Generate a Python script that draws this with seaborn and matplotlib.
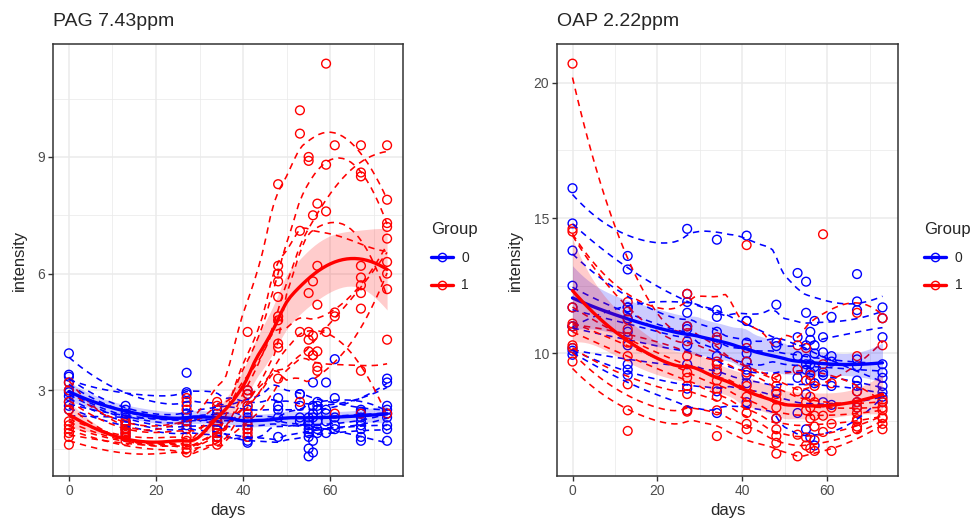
import numpy as np
import pandas as pd
import matplotlib
matplotlib.use("Agg")
import matplotlib.pyplot as plt
import seaborn as sns
from matplotlib.lines import Line2D

# ---------------- data ----------------
GROUPS = ["0", "1"]
COLORS = {"0": "#0000FF", "1": "#FF0000"}
TITLES = ["PAG 7.43ppm", "OAP 2.22ppm"]
X_TICKS = [0, 20, 40, 60]
X_MINOR = [10, 30, 50, 70]
PAG_TICKS = [3, 6, 9]
PAG_MINOR = [1.5, 4.5, 7.5, 10.5]
OAP_TICKS = [10, 15, 20]
OAP_MINOR = [7.5, 12.5, 17.5]

BLUE_DAYS = [
    [0, 13, 27, 34, 41, 53, 55, 57, 61, 67, 73],
    [0, 13, 27, 34, 41, 48, 55, 56, 59, 67, 73],
    [0, 13, 27, 34, 41, 53, 56, 57, 59, 67, 73],
    [0, 13, 27, 34, 41, 48, 53, 55, 61, 67, 73],
    [0, 13, 27, 34, 41, 55, 56, 57, 59, 67, 73],
    [0, 13, 27, 34, 41, 48, 55, 57, 61, 67, 73],
    [0, 13, 27, 34, 41, 53, 55, 56, 59, 67, 73],
    [0, 13, 27, 34, 41, 48, 56, 57, 61, 67, 73],
    [0, 13, 27, 34, 41, 53, 55, 59, 61, 67, 73],
    [0, 13, 27, 34, 41, 48, 55, 56, 57, 67, 73],
]
RED_DAYS = [
    [0, 13, 27, 34, 41, 48, 53, 56, 59, 67, 73],
    [0, 13, 27, 34, 41, 48, 53, 55, 59, 67, 73],
    [0, 13, 27, 34, 41, 48, 55, 57, 61, 67, 73],
    [0, 13, 27, 34, 41, 48, 53, 56, 57, 67, 73],
    [0, 13, 27, 34, 41, 48, 55, 56, 61, 67, 73],
    [0, 13, 27, 34, 41, 48, 55, 57, 59, 67, 73],
    [0, 13, 27, 34, 41, 48, 56, 57, 61, 67, 73],
    [0, 13, 27, 34, 41, 48, 53, 55, 59, 67, 73],
    [0, 13, 27, 34, 41, 48, 55, 56, 57, 67, 73],
    [0, 13, 27, 34, 41, 48, 53, 57, 61, 67, 73],
]

PAG_BLUE = [
    [3.95, 2.6, 2.9, 2.5, 2.6, 2.6, 2.3, 2.5, 2.8, 2.5, 3.3],
    [3.4, 2.5, 3.45, 2.4, 3.0, 2.8, 2.2, 2.6, 3.2, 2.45, 3.2],
    [3.35, 2.4, 2.6, 2.3, 2.9, 2.9, 3.2, 2.7, 2.4, 2.4, 2.6],
    [3.2, 2.3, 2.4, 2.2, 2.5, 2.6, 2.3, 2.1, 3.8, 2.3, 2.5],
    [3.0, 2.2, 2.3, 2.1, 2.3, 2.0, 2.4, 1.9, 2.2, 2.2, 2.4],
    [2.95, 2.1, 2.2, 2.0, 2.0, 2.3, 1.8, 2.2, 2.0, 2.1, 2.3],
    [2.85, 2.0, 2.1, 1.9, 1.8, 2.2, 1.5, 1.7, 2.5, 2.0, 2.1],
    [2.6, 1.9, 2.0, 1.8, 1.7, 1.8, 1.4, 2.0, 2.3, 1.8, 2.0],
    [2.5, 1.8, 2.95, 1.8, 1.65, 2.9, 1.3, 1.9, 2.1, 1.7, 1.7],
    [2.7, 2.2, 2.4, 2.2, 2.1, 2.5, 1.9, 2.3, 2.6, 2.4, 2.4],
]
PAG_RED = [
    [2.5, 2.0, 1.6, 2.2, 2.6, 4.9, 7.1, 7.5, 7.6, 8.6, 9.3],
    [3.2, 2.2, 2.8, 2.7, 4.5, 8.3, 10.2, 8.9, 8.8, 9.3, 7.9],
    [3.0, 2.15, 2.7, 2.6, 3.0, 6.2, 9.0, 7.8, 9.3, 8.5, 7.3],
    [2.7, 2.1, 2.5, 2.3, 2.9, 6.0, 9.6, 5.8, 6.2, 5.7, 7.2],
    [2.2, 2.0, 2.2, 2.1, 2.4, 5.8, 4.5, 4.4, 5.0, 5.5, 6.9],
    [2.1, 1.95, 2.0, 1.9, 2.2, 5.4, 5.5, 5.2, 11.4, 5.1, 6.0],
    [2.0, 1.9, 1.8, 1.8, 2.1, 4.2, 3.9, 4.0, 4.9, 6.2, 6.3],
    [1.9, 1.85, 1.5, 1.7, 2.0, 4.1, 4.5, 4.3, 4.5, 3.5, 2.4],
    [1.8, 1.8, 1.7, 1.6, 1.9, 3.3, 4.0, 3.9, 3.6, 2.4, 4.3],
    [1.6, 1.7, 1.4, 2.0, 1.8, 4.8, 2.7, 3.5, 2.4, 5.9, 5.6],
]

OAP_BLUE = [
    [16.1, 13.6, 14.6, 14.2, 14.35, 12.97, 12.65, 11.2, 11.35, 12.93, 11.7],
    [14.8, 13.1, 12.2, 11.35, 11.2, 11.8, 11.5, 10.8, 10.6, 11.92, 11.3],
    [13.8, 11.7, 11.5, 10.8, 10.4, 10.6, 10.5, 10.3, 10.04, 11.6, 10.6],
    [12.5, 11.3, 11.0, 10.3, 10.0, 10.27, 9.9, 9.8, 9.7, 9.78, 9.6],
    [11.7, 10.8, 10.9, 9.9, 9.7, 9.6, 9.6, 9.5, 9.3, 9.53, 9.3],
    [11.0, 11.7, 11.9, 11.6, 11.2, 10.4, 10.3, 10.0, 9.9, 9.0, 9.1],
    [11.0, 10.3, 10.3, 9.6, 9.4, 9.1, 9.4, 9.3, 9.2, 8.8, 8.8],
    [10.2, 9.6, 9.6, 9.3, 9.2, 8.6, 9.0, 8.9, 8.8, 8.6, 8.56],
    [10.1, 9.4, 8.7, 8.6, 8.9, 7.8, 8.5, 8.2, 8.1, 8.2, 8.4],
    [9.95, 9.2, 7.9, 7.8, 8.2, 7.6, 7.2, 6.9, 6.6, 8.0, 8.2],
]
OAP_RED = [
    [20.7, 11.9, 11.0, 10.5, 9.3, 9.1, 9.4, 9.2, 9.6, 8.6, 8.3],
    [14.6, 11.55, 12.2, 10.6, 14.0, 8.8, 10.3, 10.2, 14.4, 11.5, 11.3],
    [14.5, 11.25, 10.45, 9.7, 10.2, 8.5, 9.0, 8.8, 8.9, 9.9, 10.3],
    [11.0, 10.9, 9.9, 9.6, 9.7, 8.3, 8.6, 8.4, 8.2, 8.2, 8.2],
    [11.7, 10.6, 9.3, 9.4, 8.8, 8.0, 8.2, 8.0, 8.0, 8.0, 8.0],
    [11.1, 10.4, 9.1, 9.0, 8.4, 7.6, 7.9, 7.7, 7.7, 7.8, 7.9],
    [10.8, 9.9, 8.8, 8.7, 8.1, 7.2, 7.6, 7.3, 7.4, 7.57, 7.65],
    [10.3, 8.86, 8.5, 8.4, 7.8, 6.95, 7.0, 6.9, 7.1, 7.5, 7.6],
    [10.2, 7.9, 7.9, 7.9, 7.4, 6.7, 6.6, 6.5, 6.8, 7.3, 7.4],
    [9.7, 7.14, 7.85, 6.95, 7.2, 6.3, 6.2, 6.4, 6.4, 7.2, 7.2],
]


# ---------------- loess (degree 2, span 0.75, tricube) ----------------
def loess_matrix(x, xg, span=0.75):
    x = np.asarray(x, float)
    n = len(x)
    q = max(int(np.floor(n * span)), 3)
    L = np.zeros((len(xg), n))
    for i, x0 in enumerate(xg):
        d = np.abs(x - x0)
        h = max(np.sort(d)[q - 1], 1e-9)
        u = np.clip(d / h, 0, 1)
        w = (1 - u ** 3) ** 3
        X = np.column_stack([np.ones(n), x - x0, (x - x0) ** 2])
        sw = np.sqrt(w)
        L[i] = np.linalg.pinv(X * sw[:, None])[0] * sw
    return L


def smooth(x, y, n=80, se=False):
    x = np.asarray(x, float)
    y = np.asarray(y, float)
    xg = np.linspace(x.min(), x.max(), n)
    Lg = loess_matrix(x, xg)
    fit = Lg @ y
    if not se:
        return xg, fit
    Ld = loess_matrix(x, x)
    R = np.eye(len(x)) - Ld
    res = R @ y
    d1 = np.trace(R.T @ R)
    # locally estimated residual variance
    var_loc = np.clip(Lg @ (res ** 2), 1e-6, None) * len(x) / d1
    s = np.sqrt(var_loc) * np.sqrt((Lg ** 2).sum(1))
    return xg, fit, fit - 1.97 * s, fit + 1.97 * s


# ---------------- style ----------------
sns.set_style("white")
plt.rcParams["font.family"] = ["Liberation Sans", "DejaVu Sans"]

fig = plt.figure(figsize=(9.76, 5.2), dpi=100)
ax1 = fig.add_axes([53 / 976, 44 / 520, 350 / 976, 432 / 520])
ax2 = fig.add_axes([557 / 976, 44 / 520, 341 / 976, 432 / 520])

DASH = (0, (4, 3.2))


def panel(ax, vb, vr, title, yticks, yminor, legend_x):
    frames = []
    for g, days, vals in (("0", BLUE_DAYS, vb), ("1", RED_DAYS, vr)):
        for s, (d, v) in enumerate(zip(days, vals)):
            frames.append(pd.DataFrame({"days": d, "intensity": v,
                                        "Group": g, "subject": f"{g}-{s}"}))
    df = pd.concat(frames, ignore_index=True)

    # points
    sns.scatterplot(data=df, x="days", y="intensity", hue="Group",
                    hue_order=GROUPS, palette=COLORS, s=40, marker="o",
                    linewidth=1.0, legend=False, ax=ax, zorder=2)
    coll = ax.collections[-1]
    coll.set_edgecolors(coll.get_facecolors())
    coll.set_facecolors("none")

    # per-subject dashed smooths
    curves = []
    for subj, sub in df.groupby("subject", sort=False):
        xg, fit = smooth(sub["days"].values, sub["intensity"].values)
        curves.append(pd.DataFrame({"days": xg, "fit": fit,
                                    "Group": sub["Group"].iloc[0], "subject": subj}))
    cdf = pd.concat(curves, ignore_index=True)
    sns.lineplot(data=cdf, x="days", y="fit", hue="Group", hue_order=GROUPS,
                 palette=COLORS, units="subject", estimator=None,
                 linewidth=1.15, linestyle=DASH, legend=False, ax=ax, zorder=3)

    # group smooths with CI
    lows, highs = [], []
    for k, g in enumerate(GROUPS):
        sub = df[df["Group"] == g]
        xg, fit, lo, hi = smooth(sub["days"].values, sub["intensity"].values, se=True)
        lows.append(lo.min()); highs.append(hi.max())
        ax.fill_between(xg, lo, hi, color=COLORS[g], alpha=0.2, lw=0, zorder=4 + k * 0.2)
        sns.lineplot(x=xg, y=fit, color=COLORS[g], linewidth=2.4, ax=ax,
                     zorder=4.1 + k * 0.2)

    # scales
    xmin, xmax = df["days"].min(), df["days"].max()
    ymin = min(df["intensity"].min(), min(lows))
    ymax = max(df["intensity"].max(), max(highs))
    ax.set_xlim(xmin - 0.05 * (xmax - xmin), xmax + 0.05 * (xmax - xmin))
    ax.set_ylim(ymin - 0.05 * (ymax - ymin), ymax + 0.05 * (ymax - ymin))
    ax.set_xticks(X_TICKS)
    ax.set_xticks(X_MINOR, minor=True)
    ax.set_yticks(yticks)
    ax.set_yticks(yminor, minor=True)
    ax.grid(which="major", color="#EBEBEB", lw=1.1)
    ax.grid(which="minor", color="#EBEBEB", lw=0.55)
    ax.set_axisbelow(True)
    for sp in ax.spines.values():
        sp.set_color("#333333")
        sp.set_linewidth(1.1)
    ax.tick_params(which="major", length=3.5, width=1.0, color="#333333",
                   labelcolor="#4D4D4D", labelsize=10, left=True, bottom=True, pad=2)
    ax.tick_params(which="minor", length=0)
    ax.set_xlabel("days", fontsize=12, labelpad=4)
    ax.set_ylabel("intensity", fontsize=12, labelpad=8)
    ax.set_title(title, loc="left", fontsize=14, pad=13)

    handles = [Line2D([], [], color=COLORS[g], lw=2.4, marker="o", mfc="none",
                      mec=COLORS[g], ms=6, mew=1.0) for g in GROUPS]
    ax.legend(handles, GROUPS, title="Group", loc="center left",
              bbox_to_anchor=(legend_x, 263 / 520), bbox_transform=fig.transFigure,
              frameon=False, fontsize=10, title_fontsize=12, handlelength=1.6,
              handletextpad=0.6, labelspacing=1.0, borderpad=0, alignment="left")


panel(ax1, PAG_BLUE, PAG_RED, TITLES[0], PAG_TICKS, PAG_MINOR, 424 / 976)
panel(ax2, OAP_BLUE, OAP_RED, TITLES[1], OAP_TICKS, OAP_MINOR, 917 / 976)

fig.savefig("out.png", dpi=100)
